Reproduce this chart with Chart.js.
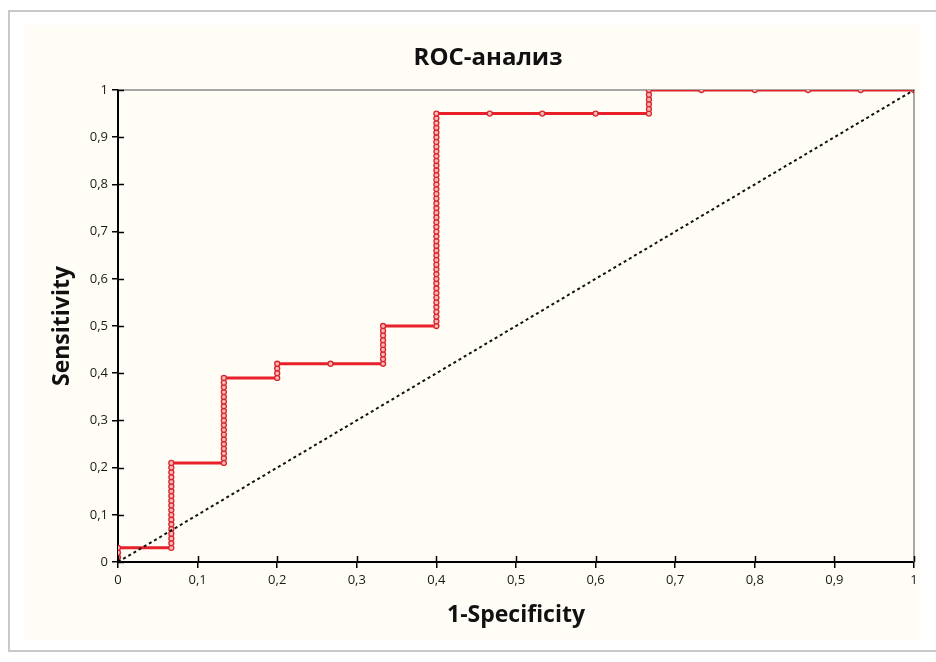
<!DOCTYPE html>
<html>
<head>
<meta charset="utf-8">
<script src="https://cdn.jsdelivr.net/npm/chart.js@4"></script>
<style>
  html, body { margin: 0; padding: 0; background: #fff; overflow: hidden; }
  .frame {
    position: absolute; left: 8px; top: 10px; width: 950px; height: 642px;
    border: 2px solid #c8c8c8; box-sizing: border-box;
  }
  .panel {
    position: absolute; left: 25px; top: 25px; width: 895px; height: 615px;
    background: #fffdf6;
  }
</style>
</head>
<body>
<div class="frame"></div>
<div class="panel"><canvas id="roc" width="895" height="615"></canvas></div>
<script>
/* ROC curve: each fpr step with the tpr values of the points on it */
const stepFpr = [0, 0.067, 0.133, 0.2, 0.267, 0.333, 0.4, 0.467, 0.533, 0.6, 0.667, 0.733, 0.8, 0.867, 0.933, 1];
const stepTpr = [
  [0, 0.01, 0.02, 0.03],
  [0.03, 0.04, 0.05, 0.06, 0.07, 0.08, 0.09, 0.10, 0.11, 0.12, 0.13, 0.14, 0.15, 0.16, 0.17, 0.18, 0.19, 0.20, 0.21],
  [0.21, 0.22, 0.23, 0.24, 0.25, 0.26, 0.27, 0.28, 0.29, 0.30, 0.31, 0.32, 0.33, 0.34, 0.35, 0.36, 0.37, 0.38, 0.39],
  [0.39, 0.40, 0.41, 0.42],
  [0.42],
  [0.42, 0.43, 0.44, 0.45, 0.46, 0.47, 0.48, 0.49, 0.50],
  [0.50, 0.51, 0.52, 0.53, 0.54, 0.55, 0.56, 0.57, 0.58, 0.59, 0.60, 0.61, 0.62, 0.63, 0.64, 0.65, 0.66, 0.67, 0.68, 0.69, 0.70,
   0.71, 0.72, 0.73, 0.74, 0.75, 0.76, 0.77, 0.78, 0.79, 0.80, 0.81, 0.82, 0.83, 0.84, 0.85, 0.86, 0.87, 0.88, 0.89, 0.90,
   0.91, 0.92, 0.93, 0.94, 0.95],
  [0.95],
  [0.95],
  [0.95],
  [0.95, 0.96, 0.97, 0.98, 0.99, 1],
  [1],
  [1],
  [1],
  [1],
  [1]
];

const diagFpr = [0, 1];
const diagTpr = [0, 1];

const xTickLabels = ['0', '0,1', '0,2', '0,3', '0,4', '0,5', '0,6', '0,7', '0,8', '0,9', '1'];
const yTickLabels = ['0', '0,1', '0,2', '0,3', '0,4', '0,5', '0,6', '0,7', '0,8', '0,9', '1'];

const rocPoints = [];
stepFpr.forEach((x, i) => stepTpr[i].forEach(y => rocPoints.push({ x: x, y: y })));
const diagPoints = diagFpr.map((x, i) => ({ x: x, y: diagTpr[i] }));

// grey top/right frame under the curves, inner half of the crossing ticks on top
const plotFrame = {
  id: 'plotFrame',
  beforeDatasetsDraw(chart) {
    const { ctx, chartArea: a } = chart;
    ctx.save();
    ctx.strokeStyle = '#8a8a8a';
    ctx.lineWidth = 1.5;
    ctx.beginPath();
    ctx.moveTo(a.left, a.top);
    ctx.lineTo(a.right, a.top);
    ctx.lineTo(a.right, a.bottom);
    ctx.stroke();
    ctx.restore();
  },
  afterDraw(chart) {
    const { ctx, chartArea: a, scales } = chart;
    ctx.save();
    ctx.strokeStyle = '#000';
    ctx.lineWidth = 1.5;
    ctx.beginPath();
    scales.y.ticks.forEach(t => {
      const py = Math.round(scales.y.getPixelForValue(t.value)) + 0.5;
      ctx.moveTo(a.left, py);
      ctx.lineTo(a.left + 6, py);
    });
    scales.x.ticks.forEach(t => {
      const px = Math.round(scales.x.getPixelForValue(t.value)) + 0.5;
      ctx.moveTo(px, a.bottom);
      ctx.lineTo(px, a.bottom - 6);
    });
    ctx.stroke();
    ctx.restore();
  }
};

const labelFont = { family: 'Open Sans', size: 13 };

new Chart(document.getElementById('roc'), {
  type: 'scatter',
  data: {
    datasets: [
      {
        data: diagPoints,
        showLine: true,
        borderColor: '#111',
        borderWidth: 2,
        borderDash: [3, 3],
        pointRadius: 0
      },
      {
        data: rocPoints,
        showLine: true,
        borderColor: '#e8202a',
        borderWidth: 3,
        pointRadius: 2.5,
        pointBorderWidth: 1.3,
        pointBorderColor: '#d8262c',
        pointBackgroundColor: '#f6b8b8'
      }
    ]
  },
  plugins: [plotFrame],
  options: {
    responsive: false,
    animation: false,
    layout: { padding: { left: 37, right: 6, top: 0, bottom: 0 } },
    plugins: {
      legend: { display: false },
      tooltip: { enabled: false },
      title: {
        display: true,
        text: 'ROC-анализ',
        color: '#111',
        font: { family: 'Open Sans', size: 24, weight: 'bold' },
        padding: { top: 18.6, bottom: 17.6 }
      }
    },
    scales: {
      x: {
        type: 'linear',
        min: 0,
        max: 1,
        afterFit: s => { s.height = 78; s.paddingLeft = 0; s.paddingRight = 0; },
        border: { color: '#000', width: 2 },
        grid: { drawOnChartArea: false, tickLength: 6, color: '#000', lineWidth: 1.5 },
        ticks: {
          stepSize: 0.1,
          padding: 4,
          color: '#1a1a1a',
          font: labelFont,
          maxRotation: 0,
          callback: (v, i) => xTickLabels[i]
        },
        title: {
          display: true,
          text: '1-Specificity',
          color: '#111',
          font: { family: 'Open Sans', size: 23, weight: 'bold' },
          padding: { top: 0, bottom: 11.2 }
        }
      },
      y: {
        type: 'linear',
        min: 0,
        max: 1,
        afterFit: s => { s.width = 56; },
        border: { color: '#000', width: 2 },
        grid: { drawOnChartArea: false, tickLength: 6, color: '#000', lineWidth: 1.5 },
        ticks: {
          stepSize: 0.1,
          padding: 4,
          color: '#1a1a1a',
          font: labelFont,
          callback: (v, i) => yTickLabels[i]
        },
        title: {
          display: true,
          text: 'Sensitivity',
          color: '#111',
          font: { family: 'Open Sans', size: 23, weight: 'bold' },
          padding: { top: -13.8, bottom: 0 }
        }
      }
    }
  }
});
</script>
</body>
</html>
